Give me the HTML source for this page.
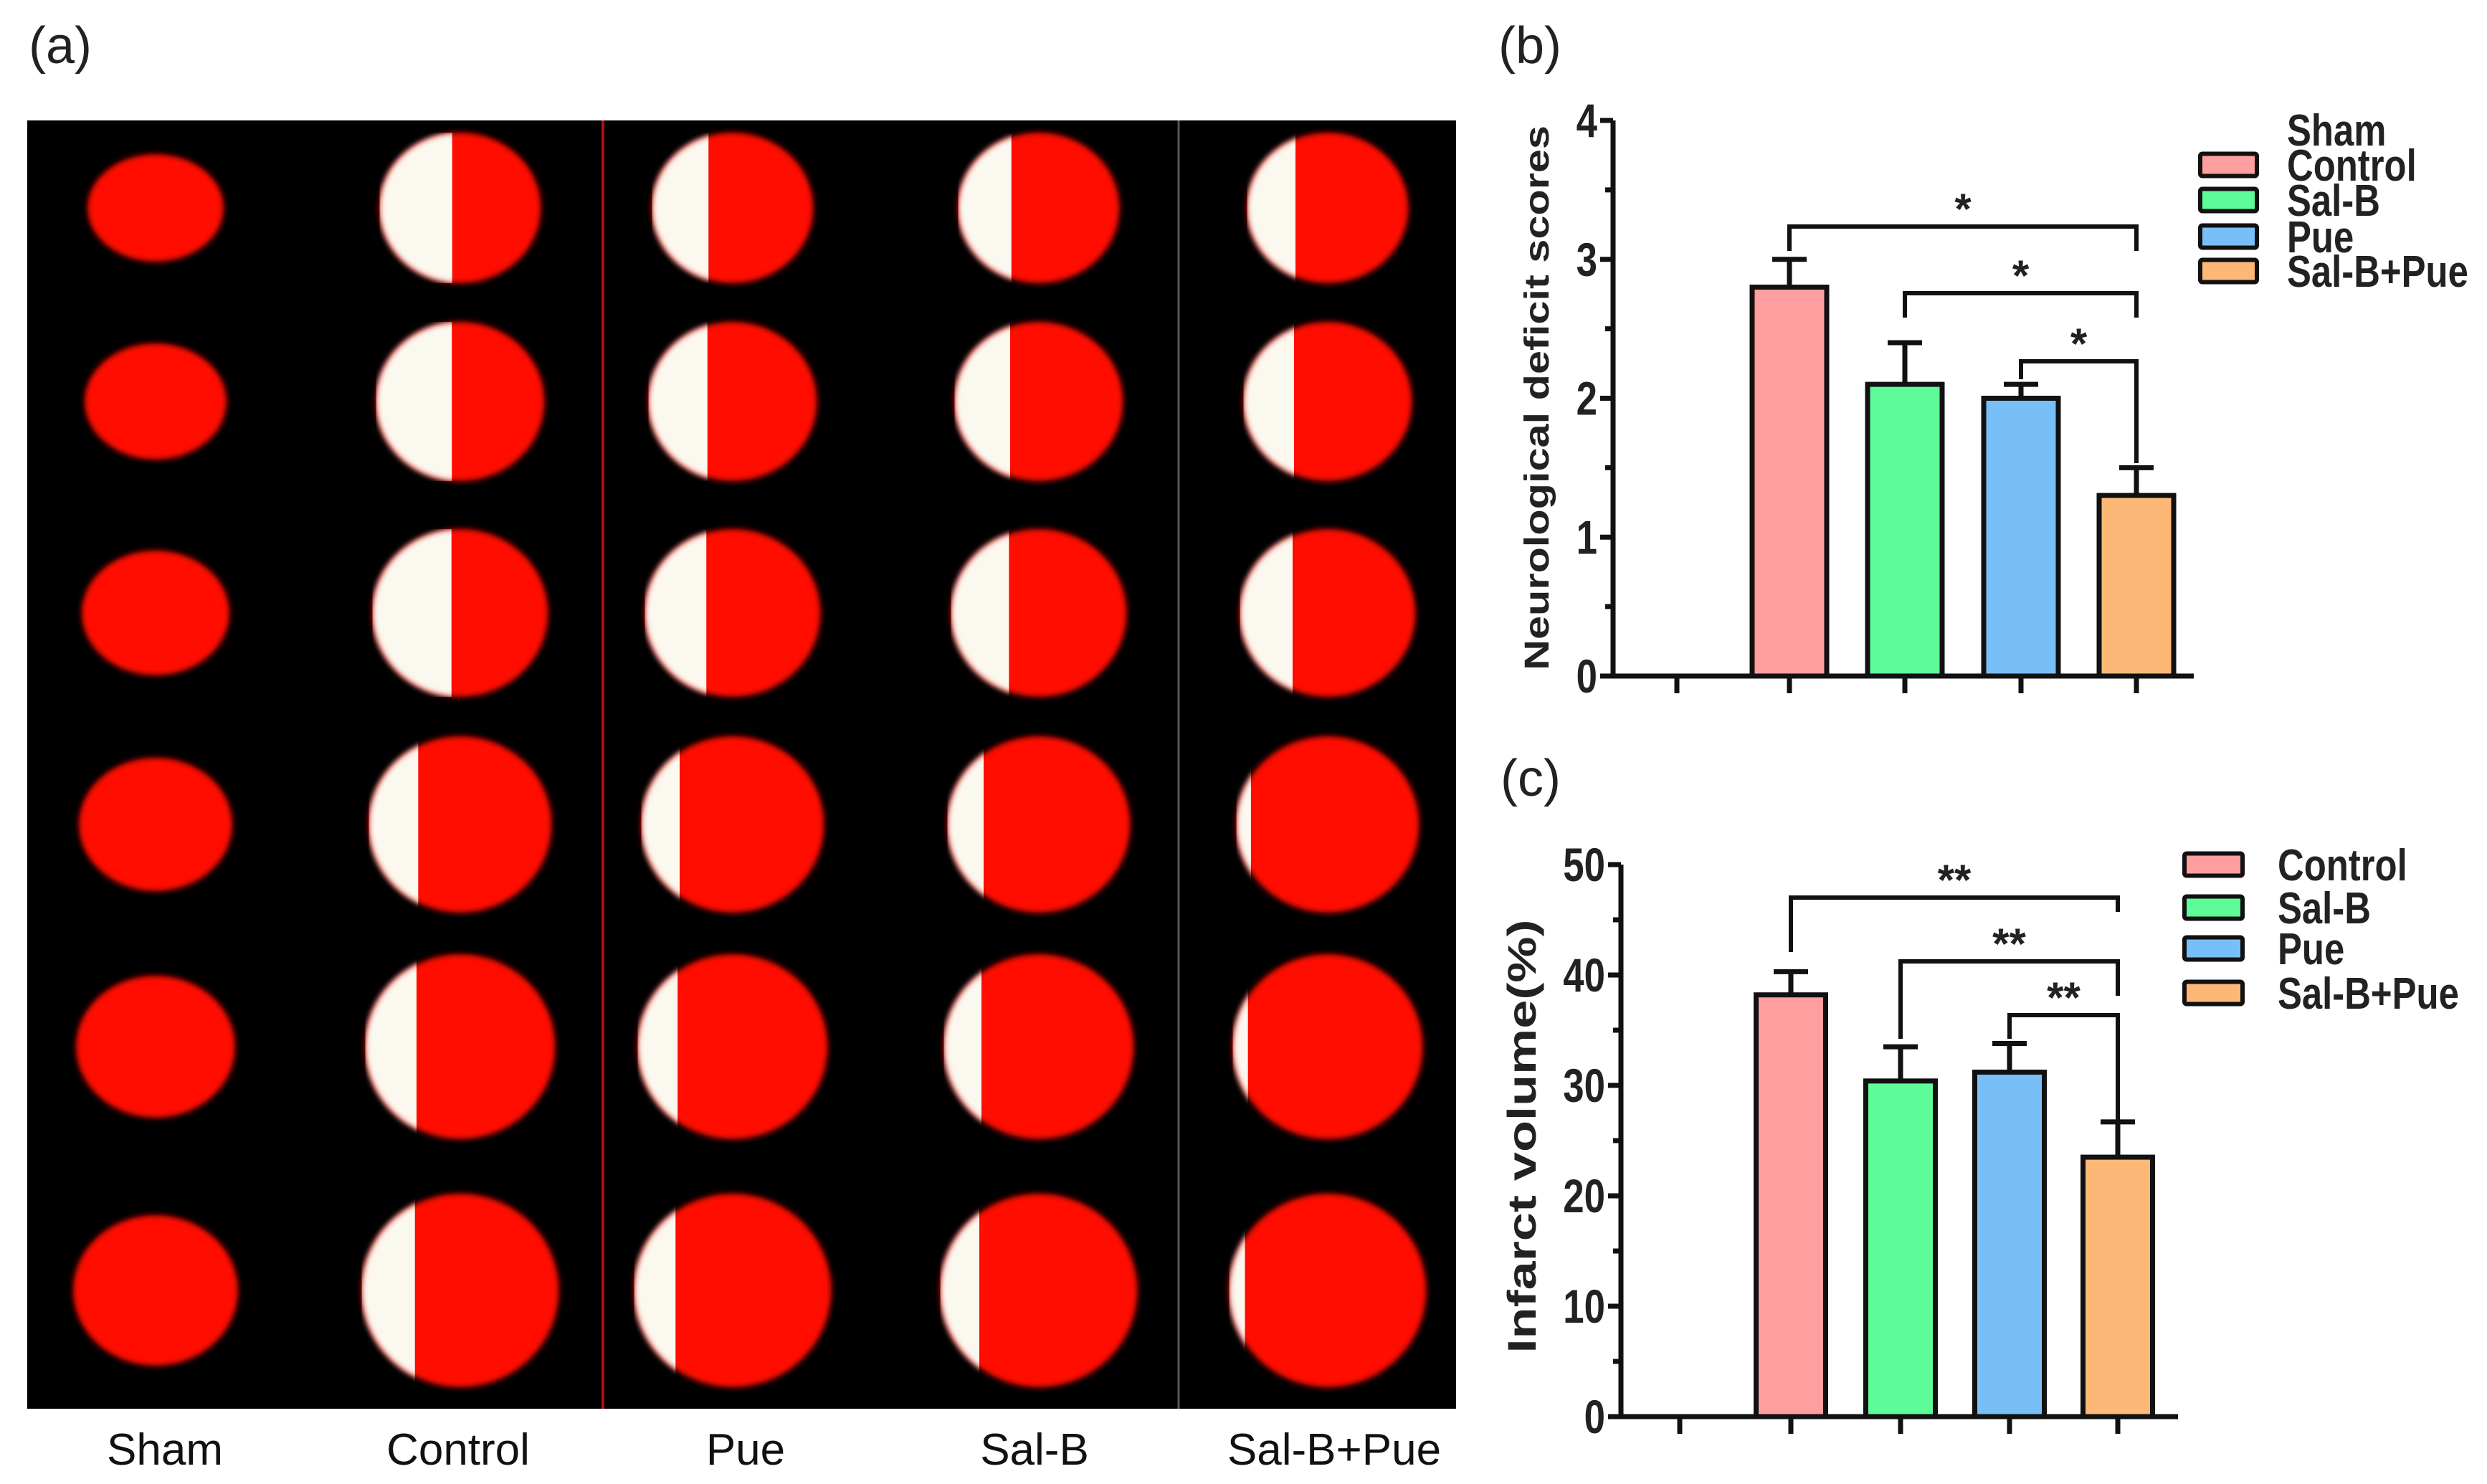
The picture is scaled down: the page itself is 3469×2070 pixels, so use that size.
<!DOCTYPE html>
<html><head><meta charset="utf-8">
<style>
html,body{margin:0;padding:0;background:#fff;overflow:hidden;}
svg{display:block;}
text{font-family:"Liberation Sans",Arial,sans-serif;}
</style></head>
<body>
<svg id="fig" width="3469" height="2070" viewBox="0 0 3469 2070" xmlns="http://www.w3.org/2000/svg">
<defs>
<filter id="blur" x="-20%" y="-20%" width="140%" height="140%"><feGaussianBlur stdDeviation="4"/></filter>
</defs>
<text x="40" y="88" font-size="72" fill="#222">(a)</text>
<text x="2090" y="88" font-size="72" fill="#222">(b)</text>
<text x="2093" y="1110" font-size="72" fill="#222">(c)</text>
<g id="photo"></g>
<g id="chartB"></g>
<g id="chartC"></g>
</svg>
<script>
const groups = ["Sham","Control","Sal-B","Pue","Sal-B+Pue"];
const barColors = ["#ffffff","#ff9e9e","#5dfc98","#78bff8","#fdb877"];
const neuroMeans = [0, 2.8, 2.1, 2.0, 1.3];
const neuroErr = [0, 0.2, 0.3, 0.1, 0.2];
const neuroTicks = [0,1,2,3,4];
const infarctMeans = [0, 38.2, 30.4, 31.2, 23.5];
const infarctErr = [0, 2.1, 3.1, 2.6, 3.2];
const infarctTicks = [0,10,20,30,40,50];
const photoLabels = ["Sham","Control","Pue","Sal-B","Sal-B+Pue"];
const whiteFrac = [0, 0.45, 0.35, 0.33, 0.3];

const NS="http://www.w3.org/2000/svg";
function mk(parent, tag, attrs){const e=document.createElementNS(NS,tag);for(const k in attrs)e.setAttribute(k,attrs[k]);parent.appendChild(e);return e;}

// ---- photo panel ----
const ph=document.getElementById('photo');
let r=mk(ph,'rect',{x:38,y:168,width:1993,height:1797,fill:'#000'});


let d1=mk(ph,'line',{x1:841,y1:168,x2:841,y2:1965,stroke:'#b01010','stroke-width':4});


let d2=mk(ph,'line',{x1:1644,y1:168,x2:1644,y2:1965,stroke:'#555','stroke-width':3});


const colX=[217,642,1022,1449,1852];
const rowY=[290,560,855,1150,1460,1800];
for(let c=0;c<5;c++){
  for(let rr=0;rr<6;rr++){
    const base = c===0 ? 190+rr*8 : 225+rr*10;
    const w=base, h=(c===0?150:210)+rr*12;
    const cx=colX[c], cy=rowY[rr];
    const g=mk(ph,'g',{});
    
    
    mk(g,'ellipse',{cx:cx,cy:cy,rx:w/2,ry:h/2,fill:'#ff0a00',filter:'url(#blur)'});
    let f=whiteFrac[c]*(rr<3?1:0.6);
    if(c===4&&rr>=3) f=0.08;
    if(f>0){
      const clipId='cl'+c+'_'+rr;
      const cp=mk(g,'clipPath',{id:clipId});
      mk(cp,'rect',{x:cx-w/2,y:cy-h/2,width:w*f,height:h});
      mk(g,'ellipse',{cx:cx,cy:cy,rx:w/2,ry:h/2,fill:'#fbf8f0','clip-path':'url(#'+clipId+')',filter:'url(#blur)'});
    }
  }
}
for(let c=0;c<5;c++){
  const t=mk(ph,'text',{x:[230,639,1040,1443,1861][c],y:2043,'font-size':62,'text-anchor':'middle',fill:'#111'});
  t.textContent=photoLabels[c];
  
  
}

// ---- bar chart builder ----
function buildChart(gid, o){
  const g=document.getElementById(gid);
  const y=v=>o.y0-(v-o.min)/(o.max-o.min)*(o.y0-o.y1);
  const SW=7;
  for(let i=0;i<groups.length;i++){
    if(o.means[i]<=0) continue;
    const xc=o.xs[i];
    const yt=y(o.means[i]), ye=y(o.means[i]+o.err[i]);
    const eb=mk(g,'path',{d:`M${xc},${yt} V${ye} M${xc-24},${ye} H${xc+24}`,stroke:'#111','stroke-width':SW,fill:'none'});
    
    
    const b=mk(g,'rect',{x:xc-o.bw/2,y:yt,width:o.bw,height:o.y0-yt,fill:barColors[i],stroke:'#111','stroke-width':SW});
    
    
  }
  const ax=mk(g,'path',{d:`M${o.ax},${o.y1} V${o.y0} H${o.axEnd}`,stroke:'#111','stroke-width':SW,fill:'none'});
  
  
  for(let i=0;i<o.xs.length;i++){
    const t=mk(g,'line',{x1:o.xs[i],y1:o.y0,x2:o.xs[i],y2:o.y0+24,stroke:'#111','stroke-width':SW});
    
    
  }
  for(let v=o.min; v<=o.max+1e-9; v+=o.minor){
    const major=o.ticks.some(t=>Math.abs(t-v)<1e-9);
    const l=mk(g,'line',{x1:o.ax-(major?18:11),y1:y(v),x2:o.ax,y2:y(v),stroke:'#111','stroke-width':SW});
    
    
  }
  for(const v of o.ticks){
    const t=mk(g,'text',{transform:`translate(${o.ax-22},${y(v)+23}) scale(0.8,1)`,'font-size':66,'font-weight':'bold','text-anchor':'end',fill:'#222'});
    t.textContent=v;
    
    
  }
  const yt=mk(g,'text',{transform:`translate(${o.titleX},${o.titleY}) rotate(-90)`,'font-size':o.titleSize,'font-weight':'bold','text-anchor':'middle',fill:'#222',textLength:o.titleLen,lengthAdjust:'spacingAndGlyphs'});
  yt.textContent=o.title;
  
  
  for(const br of o.brackets){
    const xa=o.xs[br.a], xb=o.xs[br.b];
    const p=mk(g,'path',{d:`M${xa},${br.la} V${br.top} H${xb} V${br.rb}`,stroke:'#111','stroke-width':6,fill:'none'});
    
    
    const s=mk(g,'text',{x:(xa+xb)/2,y:br.top-4,'font-size':60,'font-weight':'bold','text-anchor':'middle',fill:'#222'});
    s.textContent=o.star;
    
    
  }
  if(o.showSham){
    const t=mk(g,'text',{transform:`translate(${o.legTx},${o.legY[0]-49+22}) scale(0.82,1)`,'font-size':62,'font-weight':'bold',fill:'#222'});
    t.textContent='Sham';
    
    
  }
  for(let i=1;i<groups.length;i++){
    const yy=o.legY[i-1];
    const b=mk(g,'rect',{x:o.legBx,y:yy-o.legBh/2,width:o.legBw,height:o.legBh,fill:barColors[i],stroke:'#111','stroke-width':6,rx:3});
    
    
    const t=mk(g,'text',{transform:`translate(${o.legTx},${yy+22}) scale(0.82,1)`,'font-size':62,'font-weight':'bold',fill:'#222'});
    t.textContent=groups[i];
    
    
  }
}

buildChart('chartB',{means:neuroMeans,err:neuroErr,ticks:neuroTicks,min:0,max:4,minor:0.5,
  y0:943,y1:168,ax:2250,axEnd:3060,xs:[2339,2496,2657,2819,2980],bw:104,
  title:'Neurological deficit scores',titleX:2160,titleY:555,titleSize:48,titleLen:760,star:'*',
  brackets:[{a:1,b:4,top:316,la:350,rb:350},{a:2,b:4,top:409,la:443,rb:443},{a:3,b:4,top:504,la:529,rb:646}],
  showSham:true,legY:[230,279,330,378],legBx:3069,legBw:79,legBh:31,legTx:3190});
buildChart('chartC',{means:infarctMeans,err:infarctErr,ticks:infarctTicks,min:0,max:50,minor:5,
  y0:1976,y1:1206,ax:2261,axEnd:3038,xs:[2343,2498,2651,2803,2954],bw:97,
  title:'Infarct volume(%)',titleX:2142,titleY:1585,titleSize:56,titleLen:605,star:'**',
  brackets:[{a:1,b:4,top:1252,la:1328,rb:1272},{a:2,b:4,top:1341,la:1449,rb:1389},{a:3,b:4,top:1416,la:1449,rb:1571}],
  showSham:false,legY:[1206,1266,1323,1385],legBx:3047,legBw:81,legBh:31,legTx:3177});
</script>
</body></html>
